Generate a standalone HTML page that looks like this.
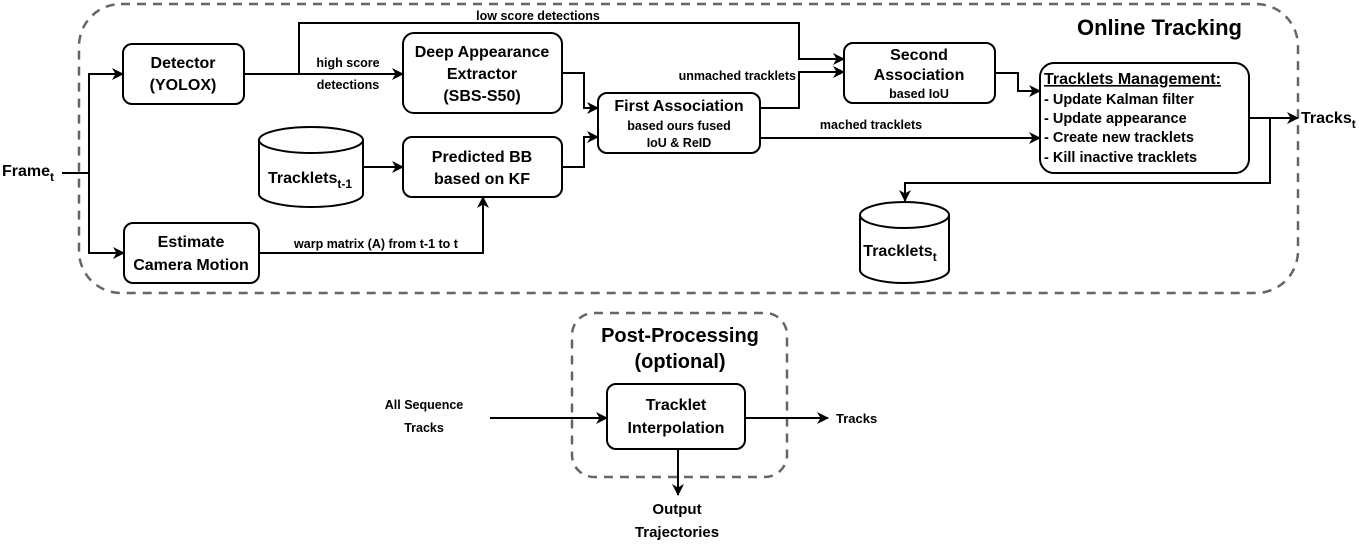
<!DOCTYPE html>
<html><head><meta charset="utf-8"><style>
html,body{margin:0;padding:0;background:#fff;}
svg{display:block;font-family:"Liberation Sans",Arial,sans-serif;font-weight:bold;}
</style></head><body>
<svg width="1364" height="544" viewBox="0 0 1364 544" xmlns="http://www.w3.org/2000/svg">
<defs>
<marker id="a" markerWidth="12" markerHeight="12" refX="11" refY="6" orient="auto" markerUnits="userSpaceOnUse">
<path d="M0,0 L12,6 L0,12 L3.5,6 z" fill="#000"/></marker>
</defs>
<g fill="none" stroke="#666" stroke-width="2.5" stroke-dasharray="9,7">
<rect x="79" y="4" width="1219" height="289" rx="42"/>
<rect x="572" y="313" width="215" height="164" rx="22"/>
</g>
<g fill="#fff" stroke="#000" stroke-width="2">
<rect x="123" y="44" width="121" height="60" rx="9"/>
<rect x="403" y="33" width="159" height="80" rx="11"/>
<rect x="403" y="137" width="159" height="60" rx="9"/>
<rect x="124" y="223" width="135" height="60" rx="9"/>
<rect x="598" y="93" width="162" height="60" rx="9"/>
<rect x="844" y="43" width="151" height="60" rx="9"/>
<rect x="1040" y="63" width="209" height="110" rx="14"/>
<rect x="607" y="384" width="138" height="65" rx="9"/>
<path d="M259,140 a52,13 0 0 1 104,0 v54 a52,13 0 0 1 -104,0 z"/>
<path d="M259,140 a52,13 0 0 0 104,0"/>
<path d="M860,215 a44.5,13 0 0 1 89,0 v55 a44.5,13 0 0 1 -89,0 z"/>
<path d="M860,215 a44.5,13 0 0 0 89,0"/>
</g>
<g fill="none" stroke="#000" stroke-width="2" marker-end="url(#a)">
<path d="M62,173 H89 V74 H123" marker-end="none"/>
<path d="M89,74 H123"/>
<path d="M89,173 V253 H124"/>
<path d="M244,74 H403"/>
<path d="M299,74 V23 H799 V59 H844"/>
<path d="M562,73 H584 V108 H598"/>
<path d="M562,167 H584 V137 H598"/>
<path d="M363,167 H403"/>
<path d="M259,253 H483 V197"/>
<path d="M760,108 H799 V72 H844"/>
<path d="M760,138 H1040"/>
<path d="M995,73 H1018 V91 H1040"/>
<path d="M1249,118 H1298"/>
<path d="M1270,118 V183 H905 V201"/>
<path d="M490,418 H607"/>
<path d="M745,418 H828"/>
<path d="M678,449 V495"/>
</g>
<g text-anchor="middle" font-size="16" fill="#000">
<text x="183" y="68">Detector</text>
<text x="183" y="90">(YOLOX)</text>
<text x="482" y="57">Deep Appearance</text>
<text x="482" y="79">Extractor</text>
<text x="482" y="101">(SBS-S50)</text>
<text x="482" y="162">Predicted BB</text>
<text x="482" y="184">based on KF</text>
<text x="191" y="247">Estimate</text>
<text x="191" y="270">Camera Motion</text>
<text x="679" y="111">First Association</text>
<text x="919" y="60">Second</text>
<text x="919" y="80">Association</text>
<text x="676" y="410">Tracklet</text>
<text x="676" y="433">Interpolation</text>
<text x="680" y="342" font-size="20">Post-Processing</text>
<text x="680" y="368" font-size="20">(optional)</text>
<text x="310" y="183">Tracklets<tspan font-size="12" dy="5">t-1</tspan></text>
<text x="900" y="256">Tracklets<tspan font-size="12" dy="5">t</tspan></text>
</g>
<g text-anchor="middle" font-size="12.5" fill="#000">
<text x="348" y="67">high score</text>
<text x="348" y="89">detections</text>
<text x="538" y="20">low score detections</text>
<text x="376" y="248">warp matrix (A) from t-1 to t</text>
<text x="679" y="130">based ours fused</text>
<text x="679" y="147">IoU &amp; ReID</text>
<text x="919" y="98">based IoU</text>
<text x="871" y="129">mached tracklets</text>
<text x="424" y="409">All Sequence</text>
<text x="424" y="432">Tracks</text>
<text x="677" y="514" font-size="15">Output</text>
<text x="677" y="537" font-size="15">Trajectories</text>
</g>
<text x="796" y="80" text-anchor="end" font-size="12.5">unmached tracklets</text>
<text x="836" y="423" font-size="13">Tracks</text>
<text x="2" y="176" font-size="16">Frame<tspan font-size="12" dy="5">t</tspan></text>
<text x="1301" y="123" font-size="16">Tracks<tspan font-size="12" dy="5">t</tspan></text>
<text x="1242" y="35" text-anchor="end" font-size="22">Online Tracking</text>
<g font-size="14.5">
<text x="1044" y="84" text-decoration="underline" font-size="16">Tracklets Management:</text>
<text x="1044" y="104">- Update Kalman filter</text>
<text x="1044" y="123">- Update appearance</text>
<text x="1044" y="142">- Create new tracklets</text>
<text x="1044" y="162">- Kill inactive tracklets</text>
</g>
</svg>
</body></html>
